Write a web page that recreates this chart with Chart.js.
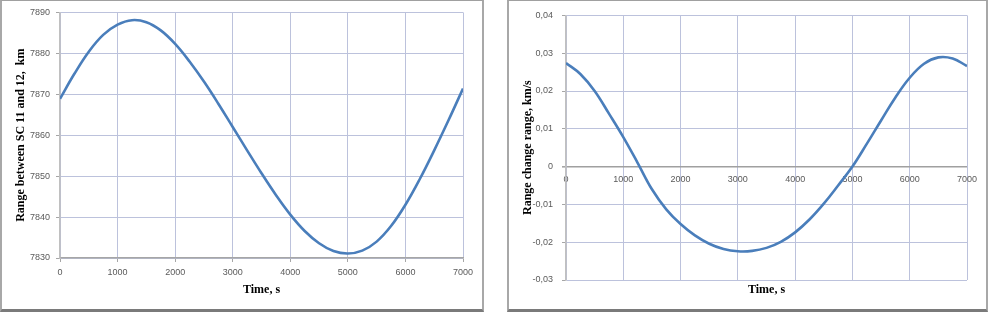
<!DOCTYPE html>
<html>
<head>
<meta charset="utf-8">
<script src="https://cdn.jsdelivr.net/npm/chart.js@4/dist/chart.umd.min.js"></script>
<style>
  html, body { margin: 0; padding: 0; background: #ffffff; }
  body { width: 988px; height: 312px; position: relative; overflow: hidden; }
  .panel { position: absolute; top: 0; box-sizing: border-box; height: 312px;
           border: 2px solid #a8a8a8; border-top: 1px solid #a0a0a0; border-bottom: 3px solid #7a7a7a; background: #fff; }
  canvas { position: absolute; }
</style>
</head>
<body>
<div class="panel" style="left:0; width:484px;"></div>
<div class="panel" style="left:507px; width:481px;"></div>
<canvas id="c1" style="left:2px; top:1px; width:480px; height:306px;" width="480" height="306"></canvas>
<canvas id="c2" style="left:509px; top:1px; width:477px; height:306px;" width="477" height="306"></canvas>
<script>
// ---- data ----
const times = [0,250,500,750,1000,1250,1500,1750,2000,2250,2500,2750,3000,3250,3500,
               3750,4000,4250,4500,4750,5000,5250,5500,5750,6000,6250,6500,6750,7000];
const rangeKm = [7868.9,7875.0,7880.4,7884.5,7887.0,7888.1,7887.6,7885.6,7882.3,7878.0,
                 7873.1,7867.7,7862.0,7856.3,7850.7,7845.4,7840.6,7836.6,7833.6,7831.7,
                 7831.1,7831.8,7834.0,7837.8,7843.0,7849.3,7856.3,7863.7,7871.4];
const rangeRate = [0.0274,0.0245,0.0200,0.0140,0.0078,0.0010,-0.0060,-0.0113,-0.0152,-0.0182,
                   -0.0204,-0.0218,-0.0224,-0.0223,-0.0215,-0.0199,-0.0174,-0.0140,-0.0098,-0.0050,
                   0.0000,0.0060,0.0122,0.0183,0.0235,0.0272,0.0289,0.0286,0.0266];
const xTicks = [0,1000,2000,3000,4000,5000,6000,7000];
const xTickLabels = ["0","1000","2000","3000","4000","5000","6000","7000"];
const yTicks1 = [7830,7840,7850,7860,7870,7880,7890];
const yTickLabels1 = ["7830","7840","7850","7860","7870","7880","7890"];
const yTicks2 = [-0.03,-0.02,-0.01,0,0.01,0.02,0.03,0.04];
const yTickLabels2 = ["-0,03","-0,02","-0,01","0","0,01","0,02","0,03","0,04"];
const yTitle1 = "Range between SC 11 and 12,  km";
const yTitle2 = "Range change range, km/s";
const xTitle = "Time, s";

// ---- styling ----
const lineColor = '#4a7ebb';
const gridColor = '#bcc2dc';
const tickFont = { family: 'Liberation Sans', size: 9 };
const tickColor = '#5a5a5a';
const titleFont = { family: 'Liberation Serif', size: 12, weight: 'bold' };

function setTicks(values) {
  return function(scale) { scale.ticks = values.map(v => ({ value: v })); };
}
function fixWidth(w) { return function(scale) { scale.width = w; }; }
function fixHeight(h) { return function(scale) { scale.height = h; }; }

function series(ys) { return times.map((t, i) => ({ x: t, y: ys[i] })); }

const common = {
  responsive: false,
  animation: false,
  devicePixelRatio: 1,
  plugins: { legend: { display: false }, tooltip: { enabled: false }, title: { display: false } }
};

new Chart(document.getElementById('c1'), {
  type: 'line',
  data: { datasets: [{ data: series(rangeKm), borderColor: lineColor, borderWidth: 2.6,
                       pointRadius: 0, tension: 0.4, fill: false }] },
  options: Object.assign({}, common, {
    layout: { padding: { top: 11, right: 19, left: 0, bottom: 0 } },
    scales: {
      x: {
        type: 'linear', min: 0, max: 7000,
        afterBuildTicks: setTicks(xTicks), afterFit: fixHeight(49),
        ticks: { font: tickFont, color: tickColor, padding: 5, maxRotation: 0,
                 callback: (v, i) => xTickLabels[i] },
        grid: { color: gridColor, lineWidth: 1, tickLength: 4, tickColor: '#a6a6a6' },
        border: { display: true, color: '#a6a6a6', width: 1.6 },
        title: { display: true, text: xTitle, font: titleFont, color: '#000',
                 padding: { top: 0, bottom: 10 } }
      },
      y: {
        type: 'linear', min: 7830, max: 7890,
        afterBuildTicks: setTicks(yTicks1), afterFit: fixWidth(58),
        ticks: { font: tickFont, color: tickColor, padding: 6,
                 callback: (v, i) => yTickLabels1[i] },
        grid: { color: gridColor, lineWidth: 1, tickLength: 4, tickColor: '#a6a6a6' },
        border: { display: true, color: '#c0c0c0', width: 1.6 },
        title: { display: true, text: yTitle1, font: titleFont, color: '#000',
                 padding: { top: 12, bottom: 0 } }
      }
    }
  })
});

new Chart(document.getElementById('c2'), {
  type: 'line',
  data: { datasets: [{ data: series(rangeRate), borderColor: lineColor, borderWidth: 2.6,
                       pointRadius: 0, tension: 0.4, fill: false }] },
  options: Object.assign({}, common, {
    layout: { padding: { top: 11, right: 19, left: 0, bottom: 0 } },
    scales: {
      x: {
        type: 'linear', min: 0, max: 7000,
        afterBuildTicks: setTicks(xTicks), afterFit: fixHeight(27),
        ticks: { display: false },
        grid: { color: gridColor, lineWidth: 1, drawTicks: false },
        border: { display: false },
        title: { display: true, text: xTitle, font: titleFont, color: '#000',
                 padding: { top: 0, bottom: 10 } }
      },
      x2: {
        type: 'linear', min: 0, max: 7000, position: { y: 0 },
        afterBuildTicks: setTicks(xTicks),
        ticks: { font: tickFont, color: tickColor, padding: 8, maxRotation: 0,
                 callback: (v, i) => xTickLabels[i] },
        grid: { display: false, drawTicks: false },
        border: { display: false }
      },
      y: {
        type: 'linear', min: -0.03, max: 0.04,
        afterBuildTicks: setTicks(yTicks2), afterFit: fixWidth(57),
        ticks: { font: tickFont, color: tickColor, padding: 9,
                 callback: (v, i) => yTickLabels2[i] },
        grid: { color: ctx => (ctx.tick && ctx.tick.value === 0) ? '#a0a0a0' : gridColor,
                lineWidth: ctx => (ctx.tick && ctx.tick.value === 0) ? 1.6 : 1,
                tickLength: 4, tickColor: '#a6a6a6' },
        border: { display: true, color: '#c0c0c0', width: 1.6 },
        title: { display: true, text: yTitle2, font: titleFont, color: '#000',
                 padding: { top: 12, bottom: 0 } }
      }
    }
  })
});
</script>
</body>
</html>
